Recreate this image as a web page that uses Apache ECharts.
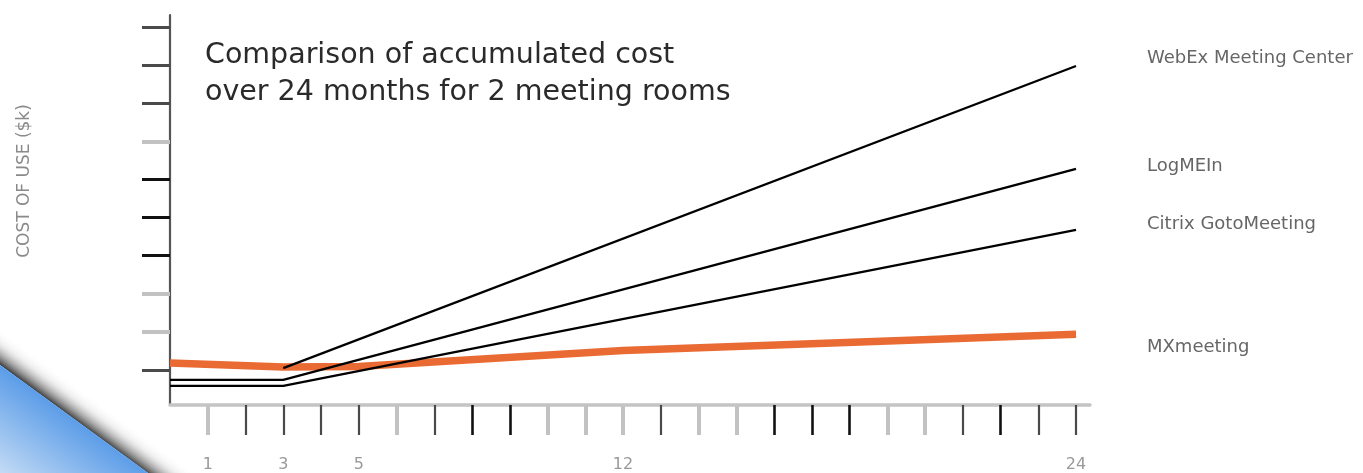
<!DOCTYPE html>
<html>
<head>
<meta charset="utf-8">
<script src="https://cdn.jsdelivr.net/npm/echarts@6/dist/echarts.min.js"></script>
<style>
html,body{margin:0;padding:0;background:#fff;}
#chart{width:1363px;height:473px;}
</style>
</head>
<body>
<div id="chart"></div>
<script>
// ---- data ----
const lineMonths   = [0, 3, 24];
const webexCost    = [null, 0.97, 8.90];
const logmeinCost  = [0.66, 0.66, 6.20];
const citrixCost   = [0.50, 0.50, 4.60];
const mxMonths     = [0, 3, 5, 12, 24];
const mxCost       = [1.10, 1.00, 1.01, 1.43, 1.86];
const seriesNames  = ['WebEx Meeting Center', 'LogMEIn', 'Citrix GotoMeeting', 'MXmeeting'];
const xTickLabels  = [1, 3, 5, 12, 24];
const xTickGray    = [1, 6, 10, 11, 12, 14, 15, 19, 20];
const xTickDark    = [2, 3, 4, 5, 7, 13, 21, 23, 24];
const xTickBlack   = [8, 9, 16, 17, 18, 22];
const yTickDark    = [0.92, 7.92, 8.92, 9.92];
const yTickBlack   = [3.92, 4.92, 5.92];
const yTickGray    = [1.92, 2.92, 6.92];
const titleText    = 'Comparison of accumulated cost\nover 24 months for 2 meeting rooms';
const yAxisTitle   = 'COST OF USE ($k)';

function pairs(xs, ys) { return xs.map((x, i) => [x, ys[i]]); }

const chart = echarts.init(document.getElementById('chart'), null, {renderer: 'canvas'});
const FONT = 'DejaVu Sans';
const X_MAX = 24.37, Y_MAX = 10.24;

function xAx(ticks, color, width, opts) {
  return Object.assign({
    type: 'value', position: 'bottom', min: 0, max: X_MAX,
    axisLine: {show: false},
    splitLine: {show: false},
    axisLabel: {show: false},
    axisTick: {show: true, inside: false, length: 30, customValues: ticks,
               lineStyle: {color: color, width: width}}
  }, opts || {});
}
function yAx(ticks, color, width, opts) {
  return Object.assign({
    type: 'value', position: 'left', min: 0, max: Y_MAX,
    axisLine: {show: false},
    splitLine: {show: false},
    axisLabel: {show: false},
    axisTick: {show: true, inside: false, length: 28, customValues: ticks,
               lineStyle: {color: color, width: width}}
  }, opts || {});
}

const option = {
  backgroundColor: '#ffffff',
  animation: false,
  title: {
    text: titleText, left: 205, top: 37, padding: 0,
    textStyle: {fontFamily: FONT, fontSize: 28.5, fontWeight: 'normal', color: '#2a2a2a', lineHeight: 37}
  },
  grid: {left: 170, right: 273, top: 15, bottom: 68, outerBoundsMode: 'none', containLabel: false},
  xAxis: [
    xAx(xTickGray, '#c2c2c2', 4, {
      axisLine: {show: true, onZero: false, lineStyle: {color: '#c4c4c4', width: 3.5}},
      axisLabel: {show: true, customValues: xTickLabels, margin: 52,
                  color: '#999999', fontFamily: FONT, fontSize: 16}
    }),
    xAx(xTickDark, '#4a4a4a', 2.2),
    xAx(xTickBlack, '#111111', 2.6)
  ],
  yAxis: [
    yAx(yTickDark, '#4a4a4a', 3, {
      axisLine: {show: true, onZero: false, lineStyle: {color: '#555555', width: 2.2}}
    }),
    yAx(yTickBlack, '#111111', 3),
    yAx(yTickGray, '#c2c2c2', 4)
  ],
  series: [
    {name: seriesNames[3], type: 'line', xAxisIndex: 0, yAxisIndex: 0, data: pairs(mxMonths, mxCost),
     symbol: 'none', z: 2, lineStyle: {color: '#e96b33', width: 7.5}},
    {name: seriesNames[0], type: 'line', xAxisIndex: 0, yAxisIndex: 0, data: pairs(lineMonths, webexCost),
     symbol: 'none', z: 3, connectNulls: false, lineStyle: {color: '#000000', width: 2.3}},
    {name: seriesNames[1], type: 'line', xAxisIndex: 0, yAxisIndex: 0, data: pairs(lineMonths, logmeinCost),
     symbol: 'none', z: 3, lineStyle: {color: '#000000', width: 2.3}},
    {name: seriesNames[2], type: 'line', xAxisIndex: 0, yAxisIndex: 0, data: pairs(lineMonths, citrixCost),
     symbol: 'none', z: 3, lineStyle: {color: '#000000', width: 2.3}}
  ],
  graphic: [
    // page-curl decoration bottom-left
    {type: 'polygon', z: -10, silent: true,
     shape: {points: [[0, 290], [0, 365], [148, 473], [240, 473]]},
     style: {fill: new echarts.graphic.LinearGradient(74, 419, 91, 396, [
       {offset: 0, color: 'rgba(45,45,45,0.9)'},
       {offset: 0.25, color: 'rgba(100,100,100,0.6)'},
       {offset: 0.6, color: 'rgba(190,190,190,0.25)'},
       {offset: 1, color: 'rgba(255,255,255,0)'}], true)}},
    {type: 'polygon', z: -9, silent: true,
     shape: {points: [[0, 365], [148, 473], [0, 473]]},
     style: {fill: new echarts.graphic.LinearGradient(0, 473, 51, 402, [
       {offset: 0, color: '#c3dbf5'},
       {offset: 1, color: '#5c9de8'}], true)}},
    // y axis title
    {type: 'text', x: 25, y: 181, rotation: Math.PI / 2, silent: true,
     style: {text: yAxisTitle, fill: '#8a8a8a', font: '17px "DejaVu Sans"',
             align: 'center', verticalAlign: 'middle', textAlign: 'center', textVerticalAlign: 'middle'}},
    // series names
    {type: 'text', x: 1147, y: 58, silent: true,
     style: {text: seriesNames[0], fill: '#666666', font: '18px "DejaVu Sans"',
             align: 'left', verticalAlign: 'middle', textAlign: 'left', textVerticalAlign: 'middle'}},
    {type: 'text', x: 1147, y: 166, silent: true,
     style: {text: seriesNames[1], fill: '#666666', font: '18px "DejaVu Sans"',
             align: 'left', verticalAlign: 'middle', textAlign: 'left', textVerticalAlign: 'middle'}},
    {type: 'text', x: 1147, y: 224, silent: true,
     style: {text: seriesNames[2], fill: '#666666', font: '18px "DejaVu Sans"',
             align: 'left', verticalAlign: 'middle', textAlign: 'left', textVerticalAlign: 'middle'}},
    {type: 'text', x: 1147, y: 347, silent: true,
     style: {text: seriesNames[3], fill: '#666666', font: '18px "DejaVu Sans"',
             align: 'left', verticalAlign: 'middle', textAlign: 'left', textVerticalAlign: 'middle'}}
  ]
};
chart.setOption(option);
</script>
</body>
</html>
